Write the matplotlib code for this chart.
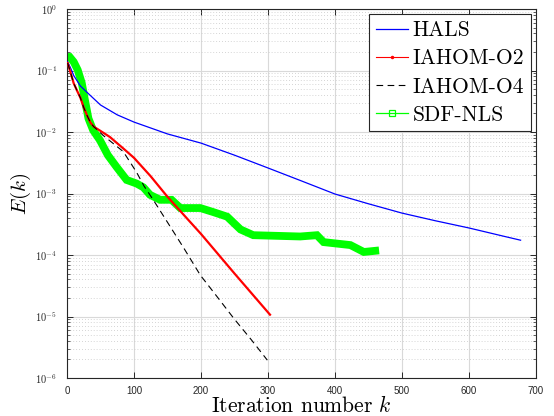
import numpy as np
import matplotlib
matplotlib.use("Agg")
import matplotlib.pyplot as plt
from matplotlib.lines import Line2D
from matplotlib.ticker import LogLocator, FixedLocator, FuncFormatter, NullFormatter

plt.rcParams['mathtext.fontset'] = 'cm'
plt.rcParams['axes.unicode_minus'] = False

# ---- data ----
hals_k = [1, 5, 10, 20, 30, 50, 75, 100, 150, 200, 250, 300, 350, 400, 450, 500, 550, 600, 650, 677]
hals_e = [0.138, 0.112, 0.083, 0.056, 0.044, 0.0275, 0.019, 0.0145, 0.0093, 0.0066, 0.0042, 0.0026,
          0.0016, 0.00098, 0.00068, 0.00048, 0.00036, 0.000275, 0.000204, 0.000174]

o2_k = [1, 5, 10, 15, 20, 25, 30, 35, 40, 50, 64, 84, 100, 125, 149, 175, 200, 250, 303]
o2_e = [0.132, 0.095, 0.062, 0.047, 0.036, 0.025, 0.0185, 0.0142, 0.0122, 0.0104, 0.0083, 0.0054,
        0.0038, 0.0019, 0.00091, 0.00044, 0.00022, 5.0e-5, 1.07e-5]

o4_k = [1, 5, 10, 15, 20, 25, 30, 35, 40, 54, 69, 84, 104, 115, 129, 150, 175, 199, 224, 249, 275, 299]
o4_e = [0.132, 0.095, 0.062, 0.047, 0.036, 0.025, 0.0185, 0.0142, 0.0122, 0.0088, 0.0065, 0.0048,
        0.0022, 0.00132, 0.00078, 0.00034, 0.000126, 4.7e-5, 2.1e-5, 9.3e-6, 4.2e-6, 1.95e-6]

sdf_k = [0, 4, 10, 16, 22, 27, 32, 39, 49, 61, 74, 89, 104, 114, 124, 139, 156, 169, 199, 218,
         239, 259, 278, 348, 373, 383, 423, 443, 460]
sdf_e = [0.166, 0.166, 0.138, 0.102, 0.063, 0.032, 0.0166, 0.0107, 0.0074, 0.0042, 0.0027, 0.00166,
         0.00145, 0.00126, 0.00095, 0.00079, 0.00079, 0.00058, 0.00058, 0.0005, 0.00042, 0.00026,
         0.00021, 0.0002, 0.00021, 0.000162, 0.000145, 0.000112, 0.000117]

labels = ['HALS', 'IAHOM-O2', 'IAHOM-O4', 'SDF-NLS']
xticks = [0, 100, 200, 300, 400, 500, 600, 700]
yticks = [1e-6, 1e-5, 1e-4, 1e-3, 1e-2, 1e-1, 1e0]

# ---- figure ----
fig = plt.figure(figsize=(5.54, 4.16), dpi=100)
ax = fig.add_axes([67/554, 1-378/416, (536-67)/554, (378-9)/416])

ax.plot(hals_k, hals_e, color=(0, 0, 1), lw=0.9, zorder=3)
ax.plot(o2_k, o2_e, color=(1, 0, 0), lw=1.6, zorder=4)
ax.plot(o4_k, o4_e, color='k', lw=0.8, dashes=(6, 4), zorder=4)
ax.plot(sdf_k, sdf_e, color=(0, 1, 0), lw=5.6, solid_joinstyle='miter', zorder=2)

ax.set_yscale('log')
ax.set_xlim(0, 700)
ax.set_ylim(1e-6, 1e0)
ax.xaxis.set_major_locator(FixedLocator(xticks))
ax.yaxis.set_major_locator(FixedLocator(yticks))
ax.yaxis.set_minor_locator(LogLocator(base=10, subs=np.arange(2, 10), numticks=20))
ax.yaxis.set_minor_formatter(NullFormatter())
ax.yaxis.set_major_formatter(FuncFormatter(lambda v, p: r'$\mathsf{10^{%d}}$' % int(round(np.log10(v)))))

ax.grid(True, which='major', color=(0.85, 0.85, 0.85), lw=0.8)
ax.grid(True, which='minor', axis='y', color=(0.78, 0.78, 0.78), lw=0.6, linestyle=(0, (1, 2.5)))
ax.set_axisbelow(True)

for s in ax.spines.values():
    s.set_color((0.15, 0.15, 0.15))
    s.set_linewidth(0.8)
ax.tick_params(which='both', direction='in', top=True, right=True, colors=(0.15, 0.15, 0.15))
ax.tick_params(which='major', length=4, width=0.7, labelsize=7, pad=6)
ax.tick_params(which='minor', length=2.2, width=0.5)
for t in ax.get_xticklabels():
    t.set_fontfamily('Liberation Sans')
ax.tick_params(axis='y', labelsize=7.5, pad=7)

fig.text(301/554, 1-412/416, r'Iteration number $k$', fontfamily='cmr10', fontsize=15.5,
         ha='center', va='baseline')
ax.set_ylabel(r'$E(k)$', fontsize=15, labelpad=2)

handles = [
    Line2D([], [], color=(0, 0, 1), lw=0.9),
    Line2D([], [], color=(1, 0, 0), lw=0.8, marker='.', ms=3),
    Line2D([], [], color='k', lw=0.8, dashes=(6, 4)),
    Line2D([], [], color=(0, 1, 0), lw=0.9, marker='s', ms=4, mfc='none', mew=0.9),
]
leg = ax.legend(handles, labels, loc='upper right', prop={'family': 'cmr10', 'size': 15.5},
                fancybox=False, framealpha=1, edgecolor=(0.15, 0.15, 0.15),
                borderaxespad=0.25, handlelength=1.5, handletextpad=0.2, labelspacing=0.4,
                borderpad=0.3)
leg.get_frame().set_linewidth(0.8)

fig.savefig('out.png', dpi=100)
